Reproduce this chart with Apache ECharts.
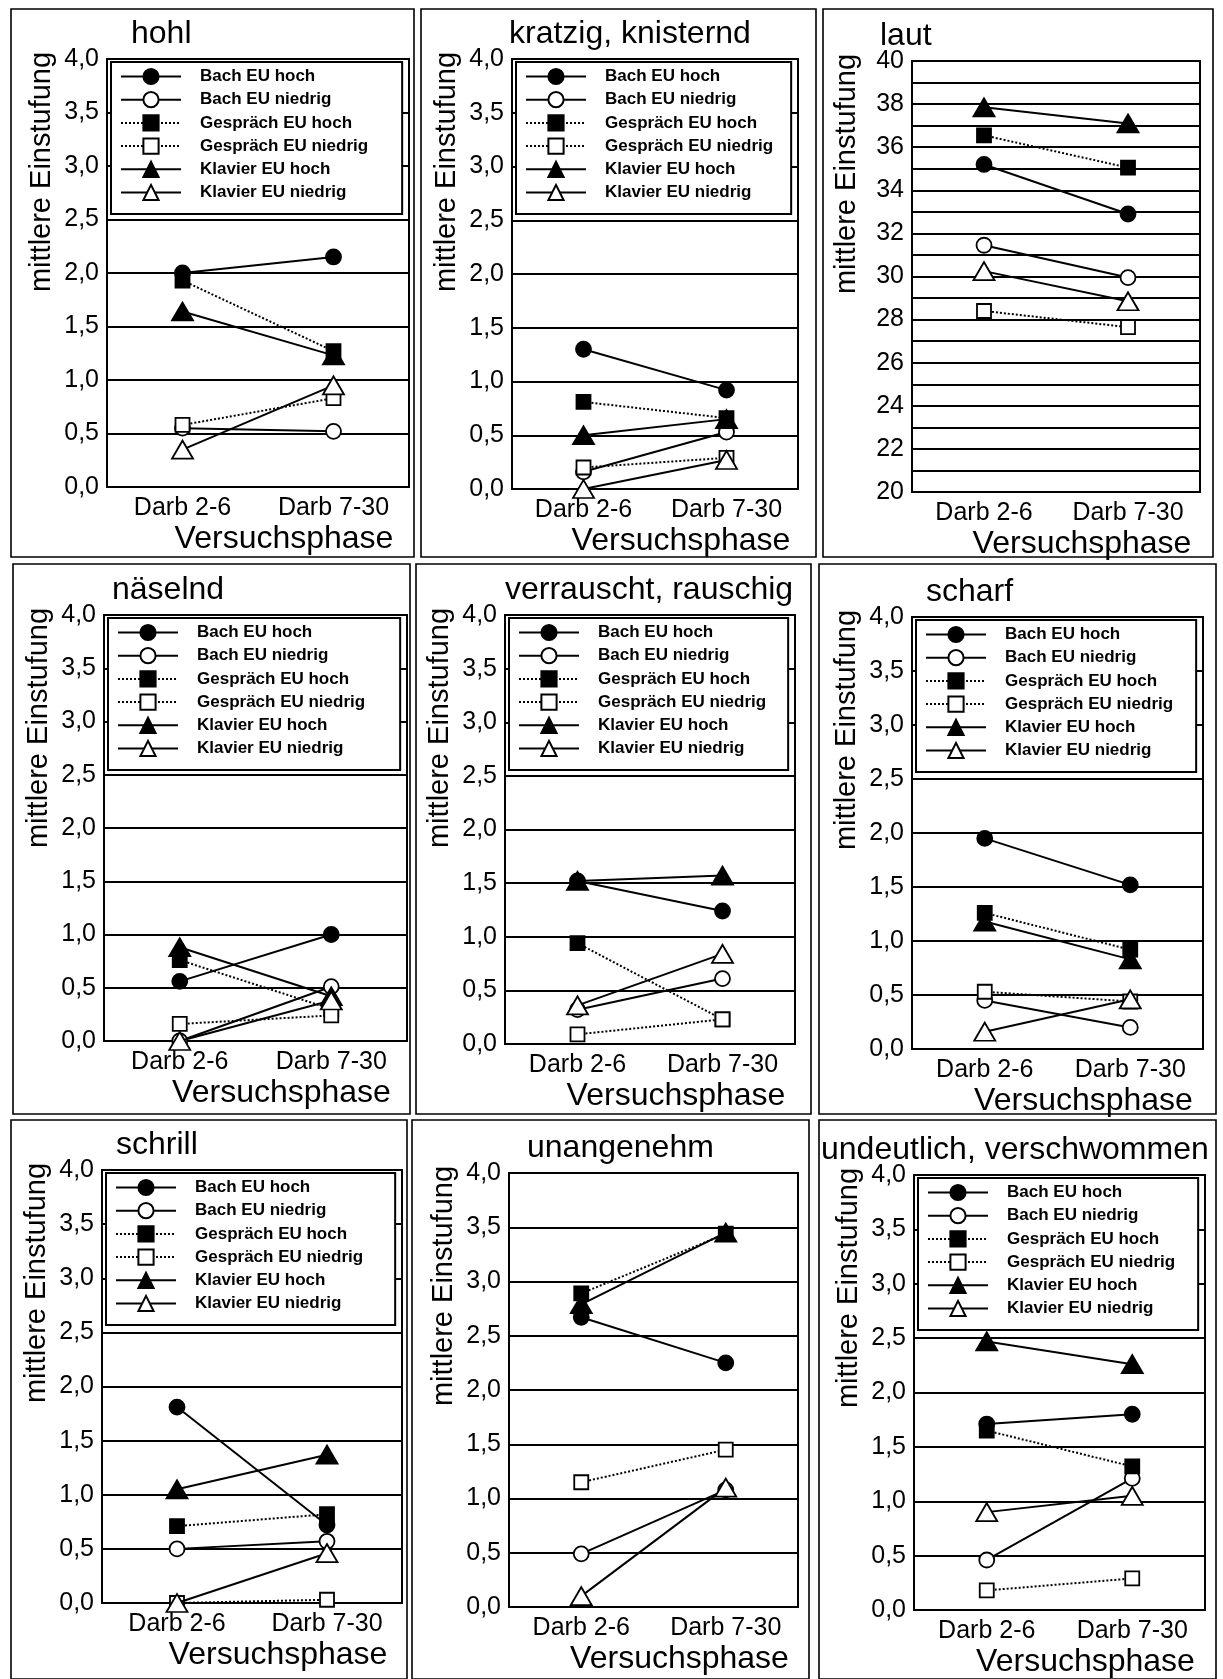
<!DOCTYPE html>
<html>
<head>
<meta charset="utf-8">
<script src="https://cdn.jsdelivr.net/npm/echarts@6/dist/echarts.min.js"></script>
<style>
  html, body { margin: 0; padding: 0; background: #fff; }
  #chart { width: 1223px; height: 1679px; }
</style>
</head>
<body>
<div id="chart"></div>
<script>
// Phases of the experiment (x categories)
const phases = ['Darb 2-6', 'Darb 7-30'];

// Listener groups, in legend order
const groups = ['Bach EU hoch', 'Bach EU niedrig', 'Gespräch EU hoch',
                'Gespräch EU niedrig', 'Klavier EU hoch', 'Klavier EU niedrig'];

// Mean rating per group: [Darb 2-6, Darb 7-30], rows in the order of `groups`
const hohl       = [[2.00, 2.15], [0.55, 0.52], [1.93, 1.27], [0.58, 0.83], [1.64, 1.23], [0.35, 0.95]];
const kratzig    = [[1.30, 0.92], [0.16, 0.53], [0.81, 0.66], [0.20, 0.29], [0.50, 0.65], [0.00, 0.27]];
const laut       = [[35.2, 32.9], [31.45, 29.95], [36.55, 35.05], [28.4, 27.65], [37.85, 37.1], [30.25, 28.85]];
const naeselnd   = [[0.56, 1.00], [0.00, 0.51], [0.76, 0.30], [0.16, 0.24], [0.88, 0.42], [0.00, 0.38]];
const verrauscht = [[1.52, 1.24], [0.32, 0.61], [0.94, 0.23], [0.09, 0.23], [1.52, 1.57], [0.36, 0.84]];
const scharf     = [[1.95, 1.52], [0.45, 0.20], [1.26, 0.92], [0.53, 0.44], [1.18, 0.83], [0.16, 0.46]];
const schrill    = [[1.81, 0.72], [0.50, 0.57], [0.71, 0.82], [0.00, 0.03], [1.05, 1.37], [0.00, 0.46]];
const unangenehm = [[2.67, 2.25], [0.49, 1.08], [2.89, 3.44], [1.15, 1.45], [2.79, 3.45], [0.10, 1.10]];
const undeutlich = [[1.71, 1.80], [0.46, 1.21], [1.65, 1.32], [0.18, 0.29], [2.47, 2.26], [0.90, 1.05]];

const titles = ['hohl', 'kratzig, knisternd', 'laut', 'näselnd', 'verrauscht, rauschig',
                'scharf', 'schrill', 'unangenehm', 'undeutlich, verschwommen'];
const panelValues = [hohl, kratzig, laut, naeselnd, verrauscht, scharf, schrill, unangenehm, undeutlich];
const hasLegend = [true, true, false, true, true, true, true, false, true];

// Value scales: [min, max, step]
const ratingScale = [0, 4, 0.5];
const loudnessScale = [20, 40, 1];
const panelScales = [ratingScale, ratingScale, loudnessScale, ratingScale, ratingScale,
                     ratingScale, ratingScale, ratingScale, ratingScale];

const yName = 'mittlere Einstufung';
const xName = 'Versuchsphase';

// ---- layout (pixels) ----
// plot area per panel: [left, top, right, bottom]
const plotBoxes = [
  [107, 59, 409, 487], [512, 59, 798, 489], [912, 61, 1200, 492],
  [104, 615, 407, 1041], [505, 615, 795, 1044], [912, 617, 1203, 1049],
  [102, 1170, 402, 1603], [509, 1173, 798, 1607], [914, 1175, 1205, 1610]
];
// outer frame per panel
const frameBoxes = [
  [11, 9, 414, 557], [421, 9, 816, 557], [823, 9, 1213, 557],
  [13, 564, 410, 1114], [416, 564, 811, 1114], [819, 564, 1216, 1114],
  [11, 1120, 407, 1679], [412, 1120, 809, 1679], [819, 1120, 1216, 1679]
];
// left edge of each panel title
const titleLeft = [131, 509, 880, 112, 505, 926, 116, 527, 821];

const FONT = '"Liberation Sans", Arial, Helvetica, sans-serif';

// marker / line appearance per group
const groupStyles = [
  { symbol: 'circle',   size: 15,       fill: '#000', dash: 'solid' },
  { symbol: 'circle',   size: 15,       fill: '#fff', dash: 'solid' },
  { symbol: 'rect',     size: 14,       fill: '#000', dash: 'dotted' },
  { symbol: 'rect',     size: 14,       fill: '#fff', dash: 'dotted' },
  { symbol: 'triangle', size: [21, 18], fill: '#000', dash: 'solid' },
  { symbol: 'triangle', size: [21, 18], fill: '#fff', dash: 'solid' }
];

const grids = [], xAxes = [], yAxes = [], series = [], legends = [], graphics = [];

function ratingLabel(v) { return v.toFixed(1).replace('.', ','); }

panelValues.forEach((values, i) => {
  const [L, T, R, B] = plotBoxes[i];
  const [yMin, yMax, yStep] = panelScales[i];
  const isLoud = panelScales[i] === loudnessScale;

  grids.push({
    left: L, top: T, width: R - L, height: B - T,
    show: true, borderColor: '#000', borderWidth: 2, backgroundColor: 'transparent'
  });

  xAxes.push({
    type: 'category', gridIndex: i, data: phases, boundaryGap: true,
    axisLine: { show: false }, axisTick: { show: false }, splitLine: { show: false },
    axisLabel: { color: '#000', fontSize: 25, fontFamily: FONT, margin: 9, interval: 0,
                 hideOverlap: false }
  });

  yAxes.push({
    type: 'value', gridIndex: i, min: yMin, max: yMax, interval: yStep,
    axisLine: { show: false }, axisTick: { show: false },
    splitLine: { show: true, lineStyle: { color: '#000', width: 1.8 } },
    axisLabel: {
      color: '#000', fontSize: 25, fontFamily: FONT, margin: 8,
      formatter: isLoud ? (v => (v % 2 === 0 ? String(v) : '')) : ratingLabel
    }
  });

  values.forEach((pair, g) => {
    const st = groupStyles[g];
    series.push({
      type: 'line', name: groups[g], xAxisIndex: i, yAxisIndex: i,
      data: pair, symbol: st.symbol, symbolSize: st.size, clip: false,
      itemStyle: { color: st.fill, borderColor: '#000', borderWidth: 1.8 },
      lineStyle: { color: '#000', width: 2, type: st.dash },
      emphasis: { disabled: true }, animation: false, z: 3 + g
    });
  });

  legends.push({
    show: hasLegend[i], data: groups, orient: 'vertical', selectedMode: false,
    left: L + 4, top: T + 3,
    backgroundColor: '#fff', borderColor: '#000', borderWidth: 2,
    padding: [5, Math.max(8, (R - L) - 268), 12, 9],
    itemWidth: 60, itemHeight: 19, itemGap: 4.2,
    textStyle: { color: '#000', fontSize: 17, fontWeight: 'bold', fontFamily: FONT,
                 lineHeight: 19, padding: [0, 0, 0, 14] },
    z: 10
  });

  const [fL, fT, fR, fB] = frameBoxes[i];
  graphics.push({
    type: 'rect', silent: true, z: 0,
    shape: { x: fL, y: fT, width: fR - fL, height: fB - fT },
    style: { fill: 'none', stroke: '#000', lineWidth: 1.6 }
  });
  graphics.push({
    type: 'text', silent: true, x: titleLeft[i], y: T - 25,
    style: { text: titles[i], fontSize: 32, fontFamily: FONT, fill: '#000',
             textAlign: 'left', textVerticalAlign: 'middle' }
  });
  graphics.push({
    type: 'text', silent: true, x: L - 65, y: T + 113, rotation: Math.PI / 2,
    style: { text: yName, fontSize: 29, fontFamily: FONT, fill: '#000',
             textAlign: 'center', textVerticalAlign: 'middle' }
  });
  graphics.push({
    type: 'text', silent: true, x: (L + R) / 2 + 26, y: B + 52,
    style: { text: xName, fontSize: 32, fontFamily: FONT, fill: '#000',
             textAlign: 'center', textVerticalAlign: 'middle' }
  });
});

const chart = echarts.init(document.getElementById('chart'), null, { renderer: 'canvas' });
chart.setOption({
  backgroundColor: '#fff',
  animation: false,
  textStyle: { fontFamily: FONT },
  grid: grids,
  xAxis: xAxes,
  yAxis: yAxes,
  legend: legends,
  series: series,
  graphic: graphics
});
</script>
</body>
</html>
